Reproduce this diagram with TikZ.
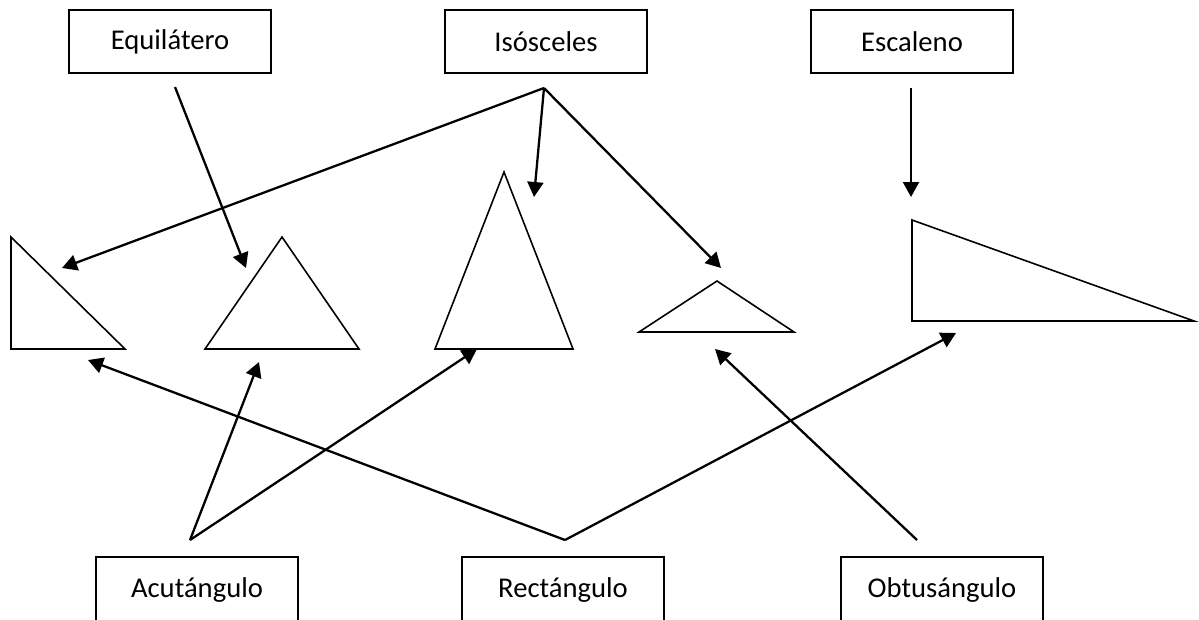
\documentclass[tikz,border=0pt]{standalone}
\usepackage{fontspec}
\setmainfont{Carlito}
\usetikzlibrary{arrows.meta}

\begin{document}
\begin{tikzpicture}[x=0.02cm,y=-0.02cm,
   box/.style={draw,line width=0.8pt,minimum width=4.04cm,minimum height=1.26cm,
               font=\fontsize{16.3}{20}\selectfont},
   lowbox/.style={box,minimum height=1.32cm},
   tri/.style={draw,line width=0.9pt,line join=miter},
   link/.style={-{Triangle[length=0.3cm,width=0.32cm]},line width=1.3pt}]
   \path[use as bounding box,clip] (0,0) rectangle (1199,619);
   % kinds by sides
   \node[box] (equi) at (170,41.5) {Equilátero};
   \node[box] (isos) at (546,41.5) {Isósceles};
   \node[box] (esca) at (912,41.5) {Escaleno};
   % kinds by angles
   \node[lowbox] (acut) at (197,590) {Acutángulo};
   \node[lowbox] (rect) at (563,590) {Rectángulo};
   \node[lowbox] (obtu) at (942,590) {Obtusángulo};
   % triangles
   \draw[tri] (11,237) -- (11,349) -- (125,349) -- cycle;
   \draw[tri] (205,349) -- (282,237) -- (359,349) -- cycle;
   \draw[tri] (435,349) -- (504,172) -- (573,349) -- cycle;
   \draw[tri] (639,332) -- (717,281) -- (794,332) -- cycle;
   \draw[tri] (912,220) -- (912,321) -- (1194,321) -- cycle;
   % arrow ends
   \coordinate (equi_s) at (175,87);
   \coordinate (isos_s) at (544,88);
   \coordinate (esca_s) at (911,88);
   \coordinate (acut_s) at (190,540);
   \coordinate (rect_s) at (565,540);
   \coordinate (obtu_s) at (917,540);
   \coordinate (t_1a) at (62,268);
   \coordinate (t_1b) at (88,360);
   \coordinate (t_2a) at (246,268);
   \coordinate (t_2b) at (259,362);
   \coordinate (t_3a) at (534,197);
   \coordinate (t_3b) at (477,349);
   \coordinate (t_4a) at (721,268);
   \coordinate (t_4b) at (715,349);
   \coordinate (t_5a) at (911,197);
   \coordinate (t_5b) at (956,333);
   \path[link]
   (equi_s) edge (t_2a)
   (isos_s) edge (t_1a)
            edge (t_3a)
            edge (t_4a)
   (esca_s) edge (t_5a)
   (acut_s) edge (t_2b)
            edge (t_3b)
   (rect_s) edge (t_1b)
            edge (t_5b)
   (obtu_s) edge (t_4b);
\end{tikzpicture}
\end{document}
